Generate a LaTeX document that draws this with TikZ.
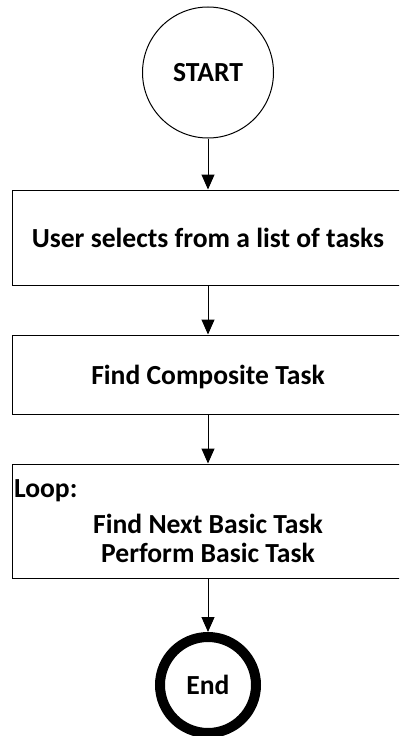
\documentclass[tikz,border=0pt]{standalone}
\usepackage{fontspec}
\setmainfont{Carlito}
\usetikzlibrary{arrows.meta}
\begin{document}
\begin{tikzpicture}[x=1pt,y=-1pt,
    box_font/.style={font=\fontsize{27.6}{29}\selectfont\bfseries},
    start_node/.style={circle,draw,line width=1pt,minimum size=131pt,inner sep=0pt,box_font},
    task_node/.style={rectangle,draw,line width=1pt,minimum width=392pt,inner sep=0pt,align=center,box_font},
    end_node/.style={circle,draw,line width=10pt,minimum size=96pt,inner sep=0pt,box_font},
    flow_arrow/.style={line width=1pt,-{Triangle[length=15pt,width=13pt]}}]
    \useasboundingbox (0,0) rectangle (399,736);
    \clip (0,0) rectangle (399,736);
    \node[start_node] (1) at (208, 72.5) {START};
    \node[task_node,minimum height=95pt] (2) at (208, 237.5) {User selects from a list of tasks};
    \node[task_node,minimum height=79pt,text depth=0pt] (3) at (208, 374.5) {Find Composite Task};
    \node[task_node,minimum height=114pt] (4) at (208, 521)
        {\makebox[388pt][l]{Loop:}\\[7pt] Find Next Basic Task\\ Perform Basic Task};
    \node[end_node] (5) at (208, 685) {End};
    \draw[flow_arrow] (1) -- (2);
    \draw[flow_arrow] (2) -- (3);
    \draw[flow_arrow] (3) -- (4);
    \draw[flow_arrow] (4) -- (5);
\end{tikzpicture}
\end{document}
